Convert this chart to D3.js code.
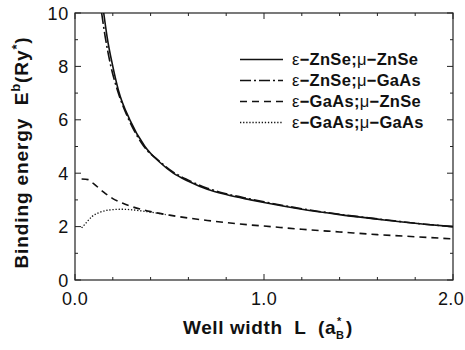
<!DOCTYPE html>
<html>
<head>
<meta charset="utf-8">
<script src="https://cdn.jsdelivr.net/npm/d3@7"></script>
<style>
  body { margin: 0; background: #fff; }
  svg { font-family: "Liberation Sans", Arial, sans-serif; }
</style>
</head>
<body>
<div id="chart"></div>
<script>
// values
const solidL = [0.152, 0.17, 0.2, 0.23, 0.29, 0.37, 0.45, 0.52, 0.6, 0.7, 0.8, 0.93, 1.0, 1.2, 1.4, 1.6, 1.72, 1.85, 2.0]
const solidE = [10, 9.1, 8, 7.1, 6, 5, 4.4, 4.0, 3.7, 3.4, 3.2, 3.0, 2.9, 2.65, 2.45, 2.28, 2.18, 2.09, 2.0]

const dashDotL = [0.141, 0.16, 0.19, 0.225, 0.285, 0.365, 0.45, 0.52, 0.6, 0.7, 0.8, 0.93, 1.0, 1.2, 1.4, 1.6, 1.72, 1.85, 2.0]
const dashDotE = [10, 9.1, 8, 7.1, 6, 5, 4.43, 4.04, 3.74, 3.44, 3.23, 3.03, 2.93, 2.67, 2.46, 2.29, 2.19, 2.09, 2.0]

const dashL = [0.035, 0.07, 0.1, 0.15, 0.2, 0.25, 0.3, 0.4, 0.5, 0.6, 0.7, 0.8, 0.93, 1.0, 1.2, 1.4, 1.6, 1.8, 2.0]
const dashE = [3.78, 3.76, 3.6, 3.3, 3.05, 2.88, 2.75, 2.56, 2.43, 2.32, 2.23, 2.15, 2.06, 2.02, 1.9, 1.8, 1.7, 1.62, 1.54]

const dotL = [0.035, 0.06, 0.09, 0.13, 0.18, 0.25, 0.3, 0.36, 0.42, 0.48]
const dotE = [1.95, 2.15, 2.38, 2.53, 2.62, 2.65, 2.63, 2.58, 2.52, 2.45]

const xTicks = [0, 1, 2]
const yTicks = [0, 2, 4, 6, 8, 10]

const legendLabels = [
  ["\u03B5", "\u2212ZnSe;", "\u03BC", "\u2212ZnSe"],
  ["\u03B5", "\u2212ZnSe;", "\u03BC", "\u2212GaAs"],
  ["\u03B5", "\u2212GaAs;", "\u03BC", "\u2212ZnSe"],
  ["\u03B5", "\u2212GaAs;", "\u03BC", "\u2212GaAs"]
]
const dashes = [null, "11,3,2,3", "7,5", "1.3,1.8"]

const width = 465
const height = 350
const mLeft = 75, mRight = 453, mTop = 13, mBottom = 280

const svg = d3.select("#chart")
  .append("svg")
  .attr("width", width)
  .attr("height", height)

const x = d3.scaleLinear().domain([0, 2]).range([mLeft, mRight])
const y = d3.scaleLinear().domain([0, 10]).range([mBottom, mTop])

// frame
svg.append("rect")
  .attr("x", mLeft).attr("y", mTop)
  .attr("width", mRight - mLeft).attr("height", mBottom - mTop)
  .attr("fill", "none").attr("stroke", "#222").attr("stroke-width", 1.2)

// inward ticks on all sides
const g = svg.append("g").attr("stroke", "#222").attr("stroke-width", 1)
d3.range(0, 2.01, 0.2).forEach(function(v) {
  const len = Math.abs(v - Math.round(v)) < 1e-6 ? 6 : 3
  g.append("line").attr("x1", x(v)).attr("x2", x(v)).attr("y1", mBottom).attr("y2", mBottom - len)
  g.append("line").attr("x1", x(v)).attr("x2", x(v)).attr("y1", mTop).attr("y2", mTop + len)
})
d3.range(0, 10.01, 1).forEach(function(v) {
  const len = v % 2 === 0 ? 6 : 3
  g.append("line").attr("y1", y(v)).attr("y2", y(v)).attr("x1", mLeft).attr("x2", mLeft + len)
  g.append("line").attr("y1", y(v)).attr("y2", y(v)).attr("x1", mRight).attr("x2", mRight - len)
})

// tick labels
svg.selectAll(".xl").data(xTicks).enter().append("text")
  .attr("class", "xl")
  .attr("x", d => x(d)).attr("y", mBottom + 25)
  .attr("text-anchor", "middle").attr("font-size", 18).attr("letter-spacing", 0.3)
  .attr("fill", "#111")
  .text(d => d.toFixed(1))
// keep the last label inside the page
svg.selectAll(".xl").each(function() {
  const b = this.getBBox()
  if (b.x + b.width > width - 1) {
    d3.select(this).attr("x", +d3.select(this).attr("x") - (b.x + b.width - width + 1))
  }
})
svg.selectAll(".yl").data(yTicks).enter().append("text")
  .attr("x", mLeft - 6).attr("y", d => y(d) + 6.5)
  .attr("text-anchor", "end").attr("font-size", 18).attr("letter-spacing", 0.8)
  .attr("fill", "#111")
  .text(d => d)

// x axis title
const xg = svg.append("g").attr("fill", "#111").attr("font-weight", "bold")
const xMain = xg.append("text").attr("y", 334).attr("font-size", 19)
  .attr("letter-spacing", 0.6).attr("xml:space", "preserve")
  .text("Well width  L  (a")
const xw = xMain.node().getComputedTextLength()
const xStart = 183
xMain.attr("x", xStart)
xg.append("text").attr("x", xStart + xw + 1).attr("y", 325).attr("font-size", 11).text("*")
xg.append("text").attr("x", xStart + xw).attr("y", 339).attr("font-size", 11).text("B")
xg.append("text").attr("x", xStart + xw + 10).attr("y", 334).attr("font-size", 19).text(")")

// y axis title
const yt = svg.append("text")
  .attr("transform", "translate(28," + ((mTop + mBottom) / 2 + 6) + ")rotate(-90)")
  .attr("text-anchor", "middle").attr("font-size", 19).attr("font-weight", "bold")
  .attr("letter-spacing", 0.9)
  .attr("fill", "#111").attr("xml:space", "preserve")
yt.append("tspan").text("Binding energy  E")
yt.append("tspan").attr("font-size", 13).attr("dy", -8).text("b")
yt.append("tspan").attr("dy", 8).text("(Ry")
yt.append("tspan").attr("font-size", 13).attr("dy", -7).text("*")
yt.append("tspan").attr("dy", 7).text(")")

// curves
const line = d3.line().x(d => x(d[0])).y(d => y(d[1])).curve(d3.curveMonotoneX)
const series = [
  d3.zip(solidL, solidE),
  d3.zip(dashDotL, dashDotE),
  d3.zip(dashL, dashE),
  d3.zip(dotL, dotE)
]
svg.selectAll(".curve").data(series).enter().append("path")
  .attr("class", "curve")
  .attr("d", line)
  .attr("fill", "none").attr("stroke", "#111")
  .attr("stroke-width", (d, i) => i === 3 ? 1.3 : 1.6)
  .attr("stroke-dasharray", (d, i) => dashes[i])

// legend
const lg = svg.append("g")
legendLabels.forEach(function(lab, i) {
  const ly = 59.5 + i * 21
  lg.append("line").attr("x1", 240).attr("x2", 283).attr("y1", ly).attr("y2", ly)
    .attr("stroke", "#111").attr("stroke-width", i === 3 ? 1.3 : 1.6)
    .attr("stroke-dasharray", dashes[i])
  const t = lg.append("text").attr("x", 292).attr("y", ly + 5.5)
    .attr("font-size", 16.5).attr("letter-spacing", 0.3).attr("fill", "#111")
  t.append("tspan").attr("font-weight", "normal").text(lab[0])
  t.append("tspan").attr("font-weight", "bold").text(lab[1])
  t.append("tspan").attr("font-weight", "normal").text(lab[2])
  t.append("tspan").attr("font-weight", "bold").text(lab[3])
})
</script>
</body>
</html>
